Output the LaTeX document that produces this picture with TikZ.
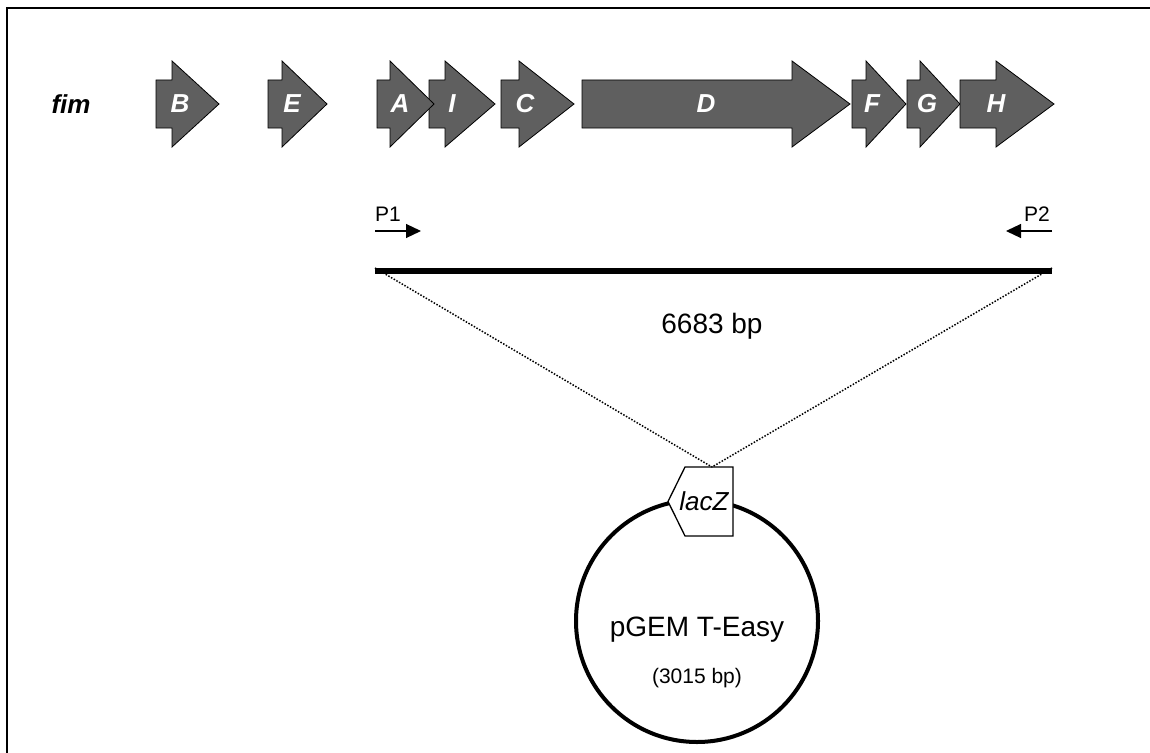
\documentclass[tikz,border=0pt]{standalone}
\usepackage{fontspec}
\setmainfont{Liberation Sans}
\usetikzlibrary{arrows.meta}
\definecolor{genegray}{RGB}{95,95,95}

% gene arrow: left edge, start of head, tip, label x, label
\newcommand\genearrow[5]{%
  \draw[gene] (#1,80) -- (#2,80) -- (#2,61) -- (#3,104) -- (#2,147)
    -- (#2,128) -- (#1,128) -- cycle;
  \node[genelabel] (gene#5) at (#4,104) {#5};
}

\begin{document}
\begin{tikzpicture}[x=1bp,y=-1bp,
  gene/.style={fill=genegray, draw=black, line width=0.8bp, line join=miter},
  genelabel/.style={text=white, font=\fontsize{26bp}{30bp}\selectfont\bfseries\itshape, inner sep=0pt},
  plain/.style={inner sep=0pt, font=\fontsize{#1}{#1}\selectfont},
  primer/.style={line width=1.2bp, -{Triangle[length=15bp,width=14bp]}},
  frame/.style={line width=2.5bp, line cap=rect},
  insert/.style={line width=6bp},
  guide/.style={line width=1.5bp, dash pattern=on 1.5bp off 1.6bp},
  plasmid/.style={line width=4bp},
  marker/.style={fill=white, draw=black, line width=1.3bp, line join=miter}]

\useasboundingbox (0,0) rectangle (1150,753);

% open frame (top and left edges)
\draw[frame] (1170,8) -- (7,8) -- (7,780);

% fim operon
\node[font=\fontsize{26bp}{30bp}\selectfont\bfseries\itshape, inner sep=0pt] (fim) at (71,104) {fim};
\genearrow{156}{172}{219}{180}{B}
\genearrow{268}{282}{327}{292}{E}
\genearrow{429}{445}{495}{452}{I}
\genearrow{377}{390}{434}{400}{A}
\genearrow{501}{519}{574}{525}{C}
\genearrow{582}{792}{850}{706}{D}
\genearrow{852}{866}{906}{872}{F}
\genearrow{907}{920}{960}{927}{G}
\genearrow{960}{996}{1054}{996}{H}

% primers
\node[plain=21bp] (p1) at (388,214) {P1};
\node[plain=21bp] (p2) at (1037,214) {P2};
\coordinate (p1s) at (375,231);
\coordinate (p1e) at (421,231);
\coordinate (p2s) at (1052,231);
\coordinate (p2e) at (1006,231);
\draw[primer] (p1s) -- (p1e);
\draw[primer] (p2s) -- (p2e);

% PCR product
\coordinate (L) at (375,271);
\coordinate (R) at (1052,271);
\draw[insert] (L) -- (R);
\node[plain=28bp] (len) at (712,326) {6683 bp};

% plasmid
\node[draw=none, circle, minimum size=242bp, inner sep=0pt] (vec) at (697,621) {};
\draw[plasmid] (vec.center) circle[radius=121bp];
\draw[marker] (685,467) -- (733,467) -- (733,536) -- (685,536) -- (668,501.5) -- cycle;
\coordinate (site) at (712,467);
\node[inner sep=0pt, font=\fontsize{26bp}{26bp}\selectfont\itshape] (lacz) at (704,501) {lacZ};
\node[plain=28bp] (name) at (697,630) {pGEM T-Easy};
\node[plain=21bp] (size) at (697,678) {(3015 bp)};

% insertion guides
\draw[guide] ([yshift=3bp]L) -- (site);
\draw[guide] ([yshift=3bp]R) -- (site);
\end{tikzpicture}
\end{document}
